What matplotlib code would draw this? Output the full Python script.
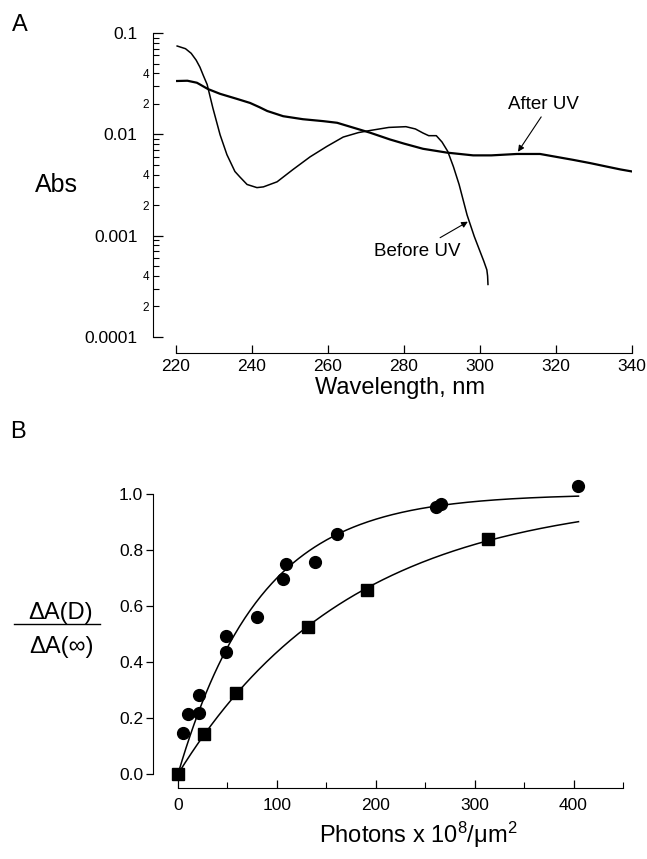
import numpy as np
import matplotlib
matplotlib.use("Agg")
import matplotlib.pyplot as plt
from matplotlib.ticker import FixedLocator, FixedFormatter
from matplotlib.lines import Line2D

plt.rcParams['font.family'] = ['Liberation Sans', 'DejaVu Sans']
plt.rcParams['mathtext.fontset'] = 'custom'
plt.rcParams['mathtext.rm'] = 'Liberation Sans'
plt.rcParams['mathtext.it'] = 'Liberation Sans:italic'

# --- panel A: absorbance spectra ---
before_wl = [220.3, 222.5, 224.0, 225.3, 226.3, 227.2, 228.2, 229.7, 231.6, 233.4,
             235.5, 236.8, 238.7, 241.3, 243.0, 246.6, 250.8, 255.3, 259.7, 264.0,
             268.0, 271.0, 276.0, 280.5, 283.0, 285.0, 286.5, 288.5, 290.0, 291.5,
             293.0, 294.5, 296.6, 298.5, 300.0, 301.0, 301.8, 302.0, 302.1]
before_abs = [0.0744, 0.070, 0.063, 0.054, 0.046, 0.038, 0.031, 0.0182, 0.0099, 0.0063,
              0.0043, 0.0038, 0.0032, 0.00298, 0.00303, 0.0034, 0.0045, 0.0060, 0.0076, 0.0094,
              0.0104, 0.0109, 0.0117, 0.0119, 0.0113, 0.0103, 0.0097, 0.0097, 0.0084, 0.0068,
              0.0048, 0.0032, 0.0016, 0.00098, 0.00070, 0.00056, 0.00046, 0.00040, 0.00033]

after_wl = [220.3, 223.0, 225.5, 228.4, 231.6, 236.0, 239.5, 242.0, 244.0, 248.2,
            253.4, 258.7, 262.4, 265.8, 271.0, 276.3, 280.0, 285.0, 291.3, 298.2,
            303.0, 309.7, 315.8, 320.0, 324.5, 329.0, 333.4, 337.0, 340.0]
after_abs = [0.0336, 0.0338, 0.0323, 0.028, 0.0251, 0.0224, 0.0204, 0.0185, 0.0170, 0.0151,
             0.0141, 0.0135, 0.0130, 0.0119, 0.0104, 0.0089, 0.0081, 0.0072, 0.0066, 0.0062,
             0.0062, 0.0064, 0.0064, 0.0060, 0.0056, 0.0052, 0.0048, 0.0045, 0.0043]

wl_ticks = [220, 240, 260, 280, 300, 320, 340]
abs_major = [1e-4, 1e-3, 1e-2, 1e-1]
abs_major_labels = ['0.0001', '0.001', '0.01', '0.1']

# --- panel B: normalized absorbance change vs photons ---
circ_x = [5, 10, 21, 21, 49, 49, 80, 106, 109, 139, 161, 261, 266, 405]
circ_y = [0.146, 0.214, 0.218, 0.282, 0.436, 0.493, 0.561, 0.696, 0.75, 0.757, 0.857, 0.954, 0.964, 1.03]
sq_x = [0, 26, 59, 131, 191, 313]
sq_y = [0.0, 0.143, 0.29, 0.525, 0.657, 0.839]
photon_ticks = [0, 100, 200, 300, 400]
frac_ticks = [0.0, 0.2, 0.4, 0.6, 0.8, 1.0]


def fit_k(x, y):
    # single exponential 1 - exp(-x/k), least squares over k
    x = np.asarray(x, float)
    y = np.asarray(y, float)
    ks = np.linspace(20, 400, 3801)
    err = [np.sum((y - (1 - np.exp(-x / k))) ** 2) for k in ks]
    return ks[int(np.argmin(err))]


W, H = 647, 859


def rect(l, t, r, b):
    return [l / W, 1 - b / H, (r - l) / W, (b - t) / H]


fig = plt.figure(figsize=(W / 100, H / 100), dpi=100)
px = 72 / 100  # one pixel in points

# ---------- panel A ----------
axA = fig.add_axes(rect(176, 33, 632, 337))
axA.plot(before_wl, before_abs, color='black', lw=1.1)
axA.plot(after_wl, after_abs, color='black', lw=1.6)
axA.set_yscale('log')
axA.set_xlim(220, 340)
axA.set_ylim(1e-4, 0.1)
for s in ('top', 'right'):
    axA.spines[s].set_visible(False)
axA.spines['left'].set_position(('outward', 23 * px))
axA.spines['bottom'].set_position(('outward', 16 * px))
axA.set_xticks(wl_ticks)
axA.yaxis.set_major_locator(FixedLocator(abs_major))
axA.yaxis.set_major_formatter(FixedFormatter(abs_major_labels))
minor_vals, minor_labels = [], []
for e in (-4, -3, -2):
    for m in range(2, 10):
        minor_vals.append(m * 10.0 ** e)
        minor_labels.append(str(m) if m in (2, 4) else '')
axA.yaxis.set_minor_locator(FixedLocator(minor_vals))
axA.yaxis.set_minor_formatter(FixedFormatter(minor_labels))
axA.tick_params(axis='x', which='major', direction='in', length=6, width=0.9,
                labelsize=12.5, pad=4)
axA.tick_params(axis='x', which='minor', bottom=False)
axA.tick_params(axis='y', which='major', direction='in', length=7, width=0.9,
                labelsize=12.5, pad=11)
axA.tick_params(axis='y', which='minor', direction='in', length=4, width=0.8,
                labelsize=8.5, pad=3)

axA.annotate('', xy=(310.0, 0.00673), xytext=(316.1, 0.01486),
             arrowprops=dict(arrowstyle='-|>', color='black', lw=0.8,
                             mutation_scale=9, shrinkA=0, shrinkB=0))
axA.text(316.6, 0.0198, 'After UV', ha='center', va='center', fontsize=13.5)
axA.annotate('', xy=(296.8, 0.001374), xytext=(289.5, 0.000955),
             arrowprops=dict(arrowstyle='-|>', color='black', lw=0.8,
                             mutation_scale=9, shrinkA=0, shrinkB=0))
axA.text(283.4, 0.000695, 'Before UV', ha='center', va='center', fontsize=13.5)

fig.text(20 / W, 1 - 25 / H, 'A', fontsize=17, ha='center', va='center')
fig.text(56 / W, 1 - 185 / H, 'Abs', fontsize=18, ha='center', va='center')
fig.text(400 / W, 1 - 394 / H, 'Wavelength, nm', fontsize=17, ha='center', va='baseline')

# ---------- panel B ----------
axB = fig.add_axes(rect(178, 494, 623, 774))
kc = fit_k(circ_x, circ_y)
ks = fit_k(sq_x, sq_y)
xx = np.linspace(0, 405, 300)
axB.plot(xx, 1 - np.exp(-xx / kc), color='black', lw=1.1)
axB.plot(xx, 1 - np.exp(-xx / ks), color='black', lw=1.1)
axB.plot(circ_x, circ_y, 'o', color='black', ms=8.5, clip_on=False)
axB.plot(sq_x, sq_y, 's', color='black', ms=8, clip_on=False)
axB.set_xlim(0, 450)
axB.set_ylim(0, 1.0)
for s in ('top', 'right'):
    axB.spines[s].set_visible(False)
axB.spines['left'].set_position(('outward', 25 * px))
axB.spines['bottom'].set_position(('outward', 14 * px))
axB.set_xticks(photon_ticks)
axB.set_xticks([50, 150, 250, 350, 450], minor=True)
axB.set_yticks(frac_ticks)
axB.set_yticklabels([f'{v:.1f}' for v in frac_ticks])
axB.tick_params(axis='x', which='major', direction='in', length=6, width=0.9,
                labelsize=12.5, pad=7)
axB.tick_params(axis='x', which='minor', direction='in', length=4, width=0.8)
axB.tick_params(axis='y', which='major', direction='out', length=5, width=0.9,
                labelsize=12.5, pad=2)

fig.text(18 / W, 1 - 432 / H, 'B', fontsize=17, ha='center', va='center')
fig.text(61 / W, 1 - 613 / H, 'ΔA(D)', fontsize=17, ha='center', va='center')
fig.add_artist(Line2D([14 / W, 100 / W], [1 - 624 / H, 1 - 624 / H],
                      color='black', lw=1.0, transform=fig.transFigure))
fig.text(62 / W, 1 - 647 / H, 'ΔA(∞)', fontsize=17, ha='center', va='center')
fig.text(418 / W, 1 - 843 / H, 'Photons x 10$^8$/μm$^2$', fontsize=17,
         ha='center', va='baseline')

fig.savefig('out.png', dpi=100)
